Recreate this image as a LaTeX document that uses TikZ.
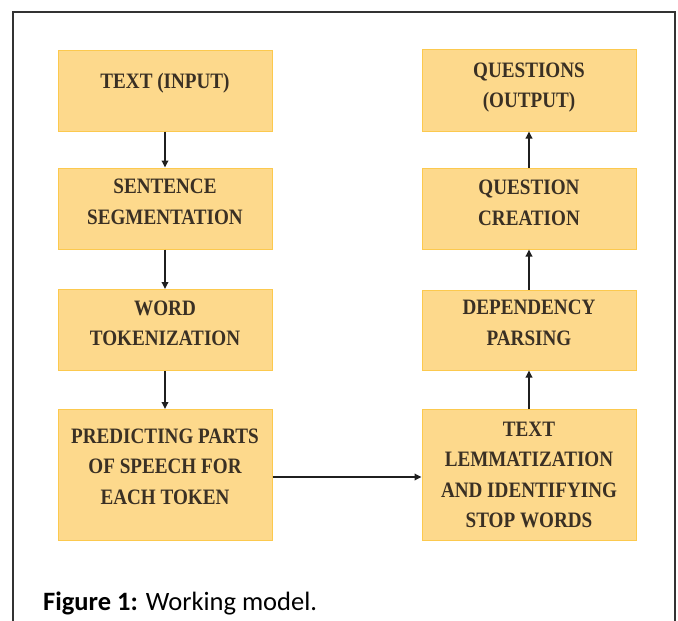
\documentclass[tikz,border=0pt]{standalone}
\usepackage{fontspec}
\usetikzlibrary{arrows.meta}
\newfontfamily\boxfont{Liberation Serif}[FakeStretch=0.87]
\newfontfamily\capfont{Carlito}
\definecolor{boxfill}{HTML}{FDD98C}
\definecolor{boxedge}{HTML}{FCC94E}
\definecolor{boxink}{HTML}{3A3024}
\definecolor{frameink}{HTML}{333333}
% multi-line box label, raised by #1 without changing the node size
\newcommand\boxtxt[2]{\raisebox{#1}[\height][\depth]{\begin{tabular}{@{}c@{}}#2\end{tabular}}}
\begin{document}
\begin{tikzpicture}[x=1pt,y=-1pt,
  stepbox/.style={draw=boxedge, line width=1pt, fill=boxfill, text=boxink,
    minimum width=214pt, inner sep=0pt,
    font=\boxfont\bfseries\fontsize{22}{30.5}\selectfont},
  flow/.style={draw=black!88, line width=1.7pt, -{Triangle[length=7pt,width=6.5pt]}}]
\useasboundingbox (0,0) rectangle (678,621);
% outer frame, open at the bottom
\draw[frameink, line width=1.5pt] (13,621) -- (13,12) -- (675,12) -- (675,621);

% left column
\node[stepbox, minimum height=81pt]  (l1) at (165,90.5) {\boxtxt{8.5pt}{TEXT (INPUT)}};
\node[stepbox, minimum height=81pt]  (l2) at (165,208.5) {\boxtxt{5.5pt}{SENTENCE\\SEGMENTATION}};
\node[stepbox, minimum height=81pt]  (l3) at (165,330) {\boxtxt{5.5pt}{WORD\\TOKENIZATION}};
\node[stepbox, minimum height=131pt] (l4) at (165,475) {\boxtxt{7.5pt}{PREDICTING PARTS\\OF SPEECH FOR\\EACH TOKEN}};

% right column
\node[stepbox, minimum height=82pt]  (r1) at (529,90) {\boxtxt{3.5pt}{QUESTIONS\\(OUTPUT)}};
\node[stepbox, minimum height=81pt]  (r2) at (529,208.5) {\boxtxt{4.5pt}{QUESTION\\CREATION}};
\node[stepbox, minimum height=80pt]  (r3) at (529,330) {\boxtxt{6pt}{DEPENDENCY\\PARSING}};
\node[stepbox, minimum height=131pt] (r4) at (529,475) {\boxtxt{-1pt}{TEXT\\LEMMATIZATION\\AND IDENTIFYING\\STOP WORDS}};

% connectors
\draw[flow] (l1) -- (l2);
\draw[flow] (l2) -- (l3);
\draw[flow] (l3) -- (l4);
\draw[flow] ([yshift=-2pt]l4.east) -- ([yshift=-2pt]r4.west);
\draw[flow] (r4) -- (r3);
\draw[flow] (r3) -- (r2);
\draw[flow] (r2) -- (r1);

% caption
\node[anchor=base west, inner sep=0pt, font=\capfont\fontsize{26.5}{30}\selectfont] (cap) at (43,610)
  {\textbf{Figure 1:} Working model.};
\end{tikzpicture}
\end{document}
